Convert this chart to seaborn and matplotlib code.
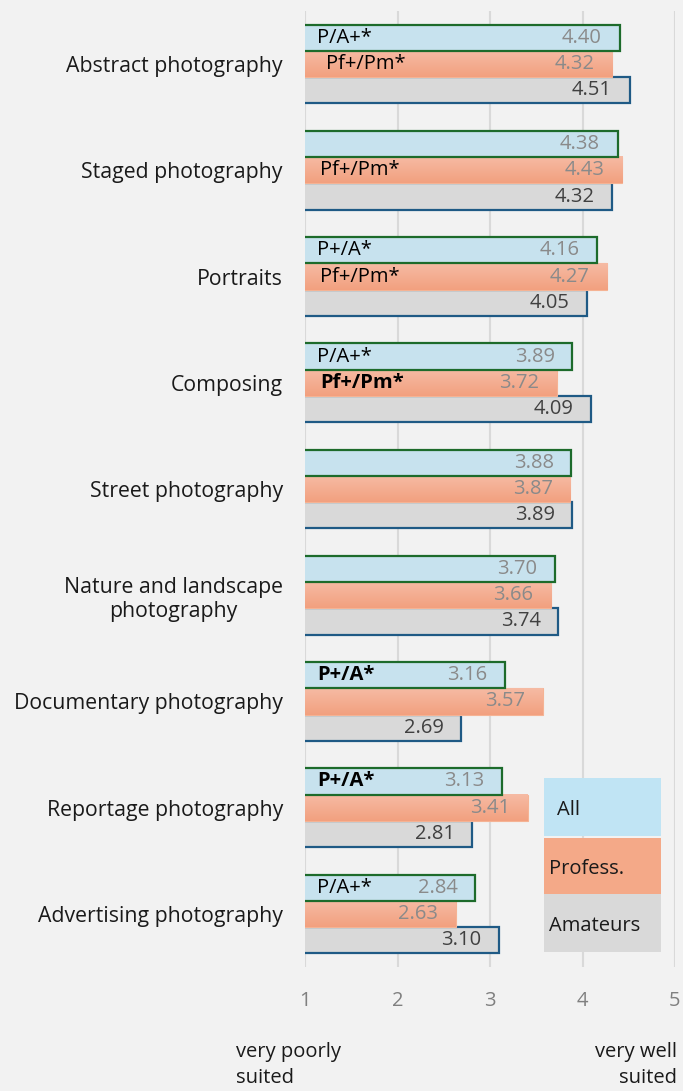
#!/usr/bin/env python3
"""Suitability ratings by genre: All / Profess. / Amateurs, horizontal grouped bars."""

import numpy as np
import pandas as pd
import matplotlib
matplotlib.use("Agg")
import matplotlib.pyplot as plt
import seaborn as sns
from matplotlib.patches import Rectangle
from matplotlib.colors import LinearSegmentedColormap

# ---- data -------------------------------------------------------------
CATEGORIES = [
    "Abstract photography",
    "Staged photography",
    "Portraits",
    "Composing",
    "Street photography",
    "Nature and landscape\nphotography",
    "Documentary photography",
    "Reportage photography",
    "Advertising photography",
]
GROUPS = ["All", "Profess.", "Amateurs"]

ALL_VALUES = [4.40, 4.38, 4.16, 3.89, 3.88, 3.70, 3.16, 3.13, 2.84]
PROF_VALUES = [4.32, 4.43, 4.27, 3.72, 3.87, 3.66, 3.57, 3.41, 2.63]
AMAT_VALUES = [4.51, 4.32, 4.05, 4.09, 3.89, 3.74, 2.69, 2.81, 3.10]

# significance notes written inside the bars
ALL_NOTES = ["P/A+*", "", "P+/A*", "P/A+*", "", "", "P+/A*", "P+/A*", "P/A+*"]
ALL_NOTES_BOLD = [False, False, False, False, False, False, True, True, False]
PROF_NOTES = ["Pf+/Pm*", "Pf+/Pm*", "Pf+/Pm*", "Pf+/Pm*", "", "", "", "", ""]
PROF_NOTES_BOLD = [False, False, False, True, False, False, False, False, False]

X_TICKS = [1, 2, 3, 4, 5]

# ---- style ------------------------------------------------------------
BG = "#f2f2f2"
COLORS = {"All": "#c0e4f4", "Profess.": "#f4a988", "Amateurs": "#d9d9d9"}
EDGES = {"All": "#1d6b2b", "Profess.": "#f5b394", "Amateurs": "#1f5a85"}
VALUE_COLORS = {"All": "#8a8a8a", "Profess.": "#8a8a8a", "Amateurs": "#404040"}
FONT = ["Open Sans", "DejaVu Sans"]
FS = 14.5
FS_CAT = 15.3

sns.set_theme(style="white")
plt.rcParams["font.family"] = FONT

W, H = 683, 1091
fig = plt.figure(figsize=(W / 100, H / 100), dpi=100, facecolor=BG)
ax = fig.add_axes([305 / W, 1 - 967 / H, 370 / W, 956 / H], facecolor=BG)

df = pd.DataFrame({
    "category": CATEGORIES * 3,
    "group": [g for g in GROUPS for _ in CATEGORIES],
    "value": ALL_VALUES + PROF_VALUES + AMAT_VALUES,
})

sns.barplot(
    data=df, y="category", x="value", hue="group",
    order=CATEGORIES, hue_order=GROUPS, orient="h",
    palette=COLORS, width=0.74, gap=0, legend=False,
    errorbar=None, ax=ax,
)

XMIN, XMAX = 1, 5
zorders = {"All": 4, "Profess.": 3, "Amateurs": 2}
prof_cmap = LinearSegmentedColormap.from_list("prof", ["#f6bba4", "#f2a07f"])
for cont, grp in zip(ax.containers, GROUPS):
    for bar in cont:
        bar.set_zorder(zorders[grp])
        bar.set_edgecolor(EDGES[grp])
        bar.set_linewidth(1.6 if grp != "Profess." else 0.8)
        if grp == "Profess.":
            # vertical gradient fill like the original
            x0, y0 = max(bar.get_x(), XMIN), bar.get_y()
            x1, h = bar.get_x() + bar.get_width(), bar.get_height()
            grad = np.linspace(0, 1, 64).reshape(-1, 1)
            ax.imshow(grad, extent=[x0, x1, y0 + h, y0], cmap=prof_cmap,
                      aspect="auto", origin="upper", zorder=3.1)

ax.set_xlim(XMIN, XMAX)
ax.set_ylim(len(CATEGORIES) - 0.5, -0.5)

# value labels near the end of each bar
for cont, grp in zip(ax.containers, GROUPS):
    for bar in cont:
        v = bar.get_width()
        yc = bar.get_y() + bar.get_height() / 2
        ax.text(v - 0.19, yc, f"{v:.2f}", ha="right", va="center",
                fontsize=FS, color=VALUE_COLORS[grp], zorder=6)

# significance notes
for bar, note, bold in zip(ax.containers[0], ALL_NOTES, ALL_NOTES_BOLD):
    if note:
        ax.text(1.13, bar.get_y() + bar.get_height() / 2, note, ha="left", va="center",
                fontsize=FS, fontweight="bold" if bold else "normal", color="black", zorder=6)
for i, (bar, note, bold) in enumerate(zip(ax.containers[1], PROF_NOTES, PROF_NOTES_BOLD)):
    if note:
        xs = 1.23 if i == 0 else 1.16
        ax.text(xs, bar.get_y() + bar.get_height() / 2, note, ha="left", va="center",
                fontsize=FS, fontweight="bold" if bold else "normal", color="black", zorder=6)

# axes cosmetics
ax.set_xticks(X_TICKS)
ax.set_xticklabels([str(t) for t in X_TICKS], color="#808080", fontsize=FS)
ax.grid(axis="x", color="#d9d9d9", linewidth=1.5, zorder=0)
ax.set_axisbelow(True)
for s in ax.spines.values():
    s.set_visible(False)
ax.tick_params(axis="both", length=0)
ax.tick_params(axis="x", pad=17)
ax.tick_params(axis="y", pad=16)
ax.set_xlabel("")
ax.set_ylabel("")
for lbl in ax.get_yticklabels():
    lbl.set_fontsize(FS_CAT)
    lbl.set_color("#1a1a1a")
    lbl.set_multialignment("center")

# legend boxes drawn at the lower right
legend_boxes = [("All", 778, 836, 557), ("Profess.", 838, 894, 549), ("Amateurs", 894, 952, 549)]
for grp, top, bot, tx in legend_boxes:
    fig.add_artist(Rectangle((544 / W, 1 - bot / H), 117 / W, (bot - top) / H,
                             transform=fig.transFigure, facecolor=COLORS[grp],
                             edgecolor="none", zorder=5))
    fig.text(tx / W, 1 - (top + (bot - top) * 0.55) / H, grp, ha="left", va="center",
             fontsize=FS, color="#1a1a1a", zorder=6)

# scale anchors under the axis
fig.text(236 / W, 1 - 1065 / H, "very poorly\nsuited", ha="left", va="center",
         fontsize=FS, color="#1a1a1a", linespacing=1.45)
fig.text(677 / W, 1 - 1065 / H, "very well\nsuited", ha="right", va="center",
         fontsize=FS, color="#1a1a1a", linespacing=1.45, multialignment="right")

fig.savefig("out.png", dpi=100, facecolor=BG)
plt.close(fig)
